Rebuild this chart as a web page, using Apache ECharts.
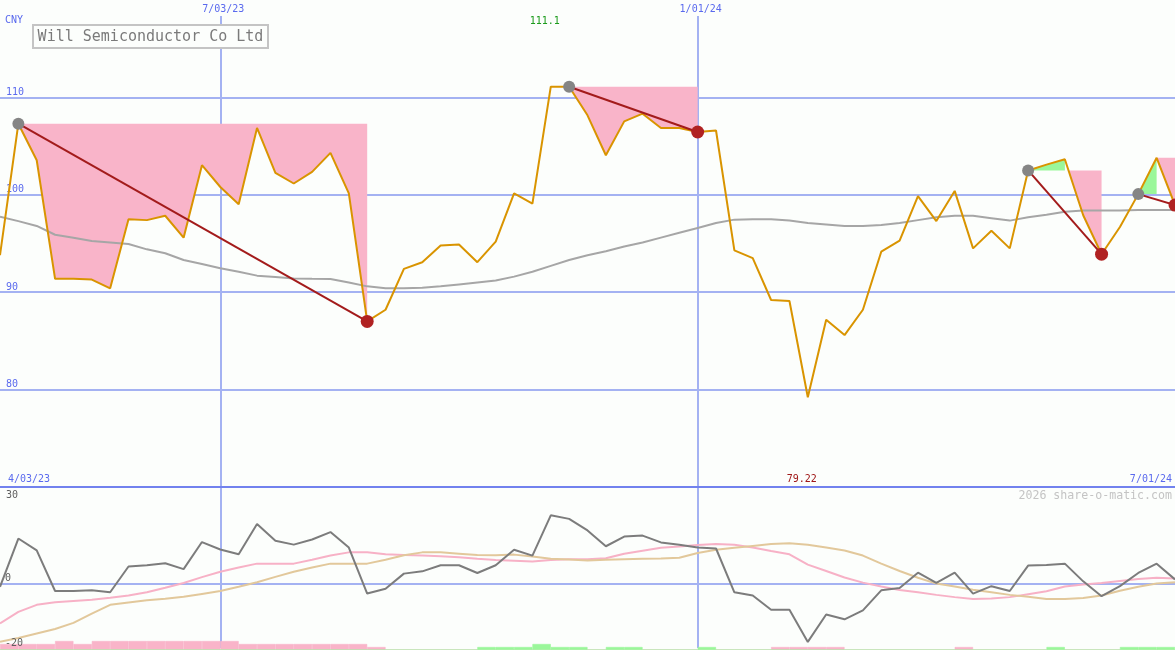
<!DOCTYPE html>
<html><head><meta charset="utf-8">
<script src="https://cdn.jsdelivr.net/npm/echarts@6/dist/echarts.min.js"></script>
<style>html,body{margin:0;padding:0;background:#fcfefc}#c{width:1175px;height:650px}</style>
</head><body><div id="c"></div>
<script>
// ---------- data ----------
const dates = ['4/10/23','4/17/23','4/24/23','5/01/23','5/08/23','5/15/23','5/22/23','5/29/23','6/05/23','6/12/23',
  '6/19/23','6/26/23','7/03/23','7/10/23','7/17/23','7/24/23','7/31/23','8/07/23','8/14/23','8/21/23',
  '8/28/23','9/04/23','9/11/23','9/18/23','9/25/23','10/02/23','10/09/23','10/16/23','10/23/23','10/30/23',
  '11/06/23','11/13/23','11/20/23','11/27/23','12/04/23','12/11/23','12/18/23','12/25/23','1/01/24','1/08/24',
  '1/15/24','1/22/24','1/29/24','2/05/24','2/12/24','2/19/24','2/26/24','3/04/24','3/11/24','3/18/24',
  '3/25/24','4/01/24','4/08/24','4/15/24','4/22/24','4/29/24','5/06/24','5/13/24','5/20/24','5/27/24',
  '6/03/24','6/10/24','6/17/24','6/24/24','7/01/24'];
const dateTicks = ['7/03/23', '1/01/24'];
const rangeLabels = ['4/03/23', '7/01/24'];
const priceTicks = [110, 100, 90, 80];
const oscLowTicks = [0, -20];
const oscHighTicks = [30];
const title = 'Will Semiconductor Co Ltd';
const currency = 'CNY';
const credit = '2026 share-o-matic.com';

const price = [93.8,107.3,103.55,91.37,91.37,91.3,90.4,97.5,97.4,97.85,
  95.6,103.04,100.8,99.04,106.86,102.25,101.16,102.35,104.3,100.14,
  87.0,88.2,92.4,93.08,94.8,94.9,93.08,95.2,100.14,99.1,
  111.1,111.1,108.16,104.06,107.54,108.33,106.86,106.86,106.45,106.6,
  94.3,93.5,89.2,89.1,79.22,87.17,85.6,88.2,94.16,95.3,
  99.86,97.3,100.4,94.5,96.3,94.5,102.5,103.1,103.65,97.9,
  93.9,96.7,100.07,103.8,98.94];
const movingAvg = [97.75,97.3,96.8,95.9,95.6,95.25,95.1,94.95,94.4,94.0,
  93.3,92.9,92.45,92.1,91.7,91.55,91.4,91.37,91.35,91.0,
  90.6,90.4,90.4,90.45,90.6,90.8,91.0,91.2,91.6,92.1,
  92.7,93.3,93.8,94.2,94.7,95.1,95.6,96.1,96.6,97.1,
  97.45,97.5,97.5,97.35,97.1,96.95,96.8,96.8,96.9,97.1,
  97.4,97.7,97.85,97.85,97.6,97.35,97.7,97.95,98.25,98.4,
  98.4,98.4,98.43,98.43,98.43];
const oscFast = [-1.0,14.0,10.3,-2.3,-2.3,-2.1,-2.7,5.3,5.7,6.3,
  4.5,12.9,10.6,9.1,18.5,13.3,12.1,13.7,16.0,11.2,
  -3.1,-1.6,3.1,3.8,5.7,5.7,3.3,5.7,10.5,8.7,
  21.2,20.1,16.5,11.6,14.6,14.9,12.8,12.1,11.2,10.9,
  -2.7,-3.7,-8.1,-8.1,-18.1,-9.6,-11.1,-8.3,-2.1,-1.4,
  3.4,0.2,3.4,-3.1,-0.8,-2.3,5.6,5.8,6.2,0.7,
  -3.9,-0.8,3.3,6.2,1.3];
const oscSignal = [-12.4,-8.8,-6.6,-5.8,-5.4,-5.0,-4.4,-3.7,-2.7,-1.3,
  0.2,2.0,3.7,5.0,6.2,6.2,6.2,7.4,8.7,9.7,
  9.7,9.1,8.9,8.7,8.5,8.2,7.7,7.3,7.1,6.9,
  7.3,7.6,7.6,7.9,9.3,10.2,11.1,11.5,12.0,12.3,
  12.1,11.2,10.1,9.1,5.9,3.9,1.9,0.3,-0.9,-2.0,
  -2.7,-3.5,-4.2,-4.8,-4.6,-4.2,-3.3,-2.4,-0.9,-0.3,
  0.2,0.8,1.4,1.8,1.6];
const oscSlow = [-18.1,-16.9,-15.5,-14.1,-12.2,-9.3,-6.6,-5.9,-5.2,-4.7,
  -4.1,-3.2,-2.3,-1.0,0.4,2.1,3.7,5.0,6.2,6.2,
  6.2,7.4,8.8,9.7,9.7,9.3,8.9,8.8,9.0,8.4,
  7.7,7.5,7.2,7.4,7.6,7.7,7.8,8.0,9.5,10.5,
  11.1,11.7,12.3,12.5,12.1,11.2,10.3,8.7,6.2,3.9,
  1.8,0.0,-0.9,-1.9,-2.7,-3.5,-4.1,-4.8,-4.8,-4.5,
  -3.7,-2.2,-1.0,0.0,0.4];
// weekly strength strip (one value per week interval)
const barPink = [2,2,2,3,2,3,3,3,3,3, 3,3,3,2,2,2,2,2,2,2, 1,0,0,0,0,0,0,0,0,0,
  0,0,0,0,0,0,0,0,0,0, 0,0,1,1,1,1,0,0,0,0, 0,0,1,0,0,0,0,0,0,0, 0,0,0,0];
const barGreen = [0,0,0,0,0,0,0,0,0,0, 0,0,0,0,0,0,0,0,0,0, 0,0,0,0,0,0,1,1,1,2,
  1,1,0,1,1,0,0,0,1,0, 0,0,0,0,0,0,0,0,0,0, 0,0,0,0,0,0,0,1,0,0, 0,1,1,1];
// drawdowns: [peak index, trough index]
const drawdowns = [[1,20],[31,38],[56,60],[62,64]];
// shaded zones: from/to index, reference index, side
const fillZones = [
  {from:1, to:20, ref:1, side:'below'},
  {from:31, to:38, ref:31, side:'below'},
  {from:56, to:58, ref:56, side:'above'},
  {from:58, to:60, ref:56, side:'below'},
  {from:62, to:63, ref:62, side:'above'},
  {from:63, to:64, ref:63, side:'below'}
];

// ---------- style ----------
const BG = '#fcfefc', GRID = '#a4b2f2', SEP = '#7282ee', BLUE = '#5a6aee';
const MONO = 'DejaVu Sans Mono';
const PINK = '#f9b4c9', GREEN = '#9af79a';

const chart = echarts.init(document.getElementById('c'), null, {renderer: 'canvas'});
const tickFn = (i, v) => dateTicks.indexOf(v) >= 0;

const option = {
  backgroundColor: BG,
  animation: false,
  grid: [
    {left: 0, right: 0, top: 0, height: 487},
    {left: 0, right: 0, top: 487, height: 161},
    {left: 0, right: 0, top: 641, height: 9}
  ],
  xAxis: [
    {gridIndex: 0, type: 'category', data: dates, boundaryGap: false, position: 'top',
     axisLine: {show: false, onZero: false}, axisTick: {show: false},
     axisLabel: {inside: true, interval: tickFn, color: BLUE, fontFamily: MONO, fontSize: 10,
       verticalAlign: 'top', margin: 0, lineHeight: 12, padding: [3, 1, 1, 7], backgroundColor: BG},
     splitLine: {show: true, interval: tickFn, lineStyle: {color: GRID, width: 2}}},
    {gridIndex: 1, type: 'category', data: dates, boundaryGap: false, position: 'top',
     axisLine: {show: true, onZero: false, lineStyle: {color: SEP, width: 2}}, axisTick: {show: false},
     axisLabel: {show: false},
     splitLine: {show: true, interval: tickFn, lineStyle: {color: GRID, width: 2}}},
    {gridIndex: 1, type: 'category', data: dates, boundaryGap: false, position: 'bottom',
     axisLine: {show: true, onZero: true, lineStyle: {color: GRID, width: 2}}, axisTick: {show: false},
     axisLabel: {show: false}, splitLine: {show: false}},
    {gridIndex: 2, type: 'category', data: dates.slice(0, 64), boundaryGap: true, show: false}
  ],
  yAxis: [
    {gridIndex: 0, type: 'value', min: 70, max: 120, interval: 10, position: 'left',
     axisLine: {show: false}, axisTick: {show: false},
     splitLine: {show: true, showMinLine: false, showMaxLine: false, lineStyle: {color: GRID, width: 2}},
     axisLabel: {inside: true, margin: 6, color: BLUE, fontFamily: MONO, fontSize: 10, verticalAlign: 'bottom',
       showMinLabel: false, showMaxLabel: false,
       formatter: v => priceTicks.indexOf(v) >= 0 ? String(v) : ''}},
    {gridIndex: 1, type: 'value', min: -20, max: 30, interval: 10, position: 'left', offset: 0, z: 10,
     axisLine: {show: false}, axisTick: {show: false}, splitLine: {show: false},
     axisLabel: {inside: true, margin: 5, color: '#606060', fontFamily: MONO, fontSize: 10, verticalAlign: 'bottom',
       formatter: v => oscLowTicks.indexOf(v) >= 0 ? String(v) : ''}},
    {gridIndex: 1, type: 'value', min: -20, max: 30, interval: 10, position: 'left', offset: 0, z: 10,
     axisLine: {show: false}, axisTick: {show: false}, splitLine: {show: false},
     axisLabel: {inside: true, margin: 6, color: '#606060', fontFamily: MONO, fontSize: 10, verticalAlign: 'top',
       padding: [3, 0, 0, 0],
       formatter: v => oscHighTicks.indexOf(v) >= 0 ? String(v) : ''}},
    {gridIndex: 2, type: 'value', min: 0, max: 3, show: false}
  ],
  series: [
    {type: 'custom', xAxisIndex: 0, yAxisIndex: 0, silent: true, z: 1,
     data: fillZones.map(f => [f.from, price[f.ref]]),
     renderItem: function (params, api) {
       const f = fillZones[params.dataIndex];
       const level = price[f.ref];
       const below = f.side === 'below';
       const pts = [api.coord([f.from, level])];
       for (let i = f.from; i <= f.to; i++) {
         const v = price[i];
         if (i > f.from) {
           const p = price[i - 1];
           if ((p - level) * (v - level) < 0) {
             const a = api.coord([i - 1, p]), b = api.coord([i, v]);
             const t = (level - p) / (v - p);
             pts.push([a[0] + (b[0] - a[0]) * t, a[1] + (b[1] - a[1]) * t]);
           }
         }
         const c = below ? Math.min(v, level) : Math.max(v, level);
         pts.push(api.coord([i, c]));
       }
       pts.push(api.coord([f.to, level]));
       return {type: 'polygon', shape: {points: pts}, style: {fill: below ? PINK : GREEN}};
     }},
    {type: 'line', xAxisIndex: 0, yAxisIndex: 0, data: movingAvg, symbol: 'none', silent: true, z: 2,
     lineStyle: {color: '#a6a6a6', width: 2}},
    {type: 'line', xAxisIndex: 0, yAxisIndex: 0, data: price, symbol: 'none', silent: true, z: 3,
     lineStyle: {color: '#d99400', width: 2}},
    {type: 'lines', coordinateSystem: 'cartesian2d', xAxisIndex: 0, yAxisIndex: 0, silent: true, z: 4,
     data: drawdowns.map(d => ({coords: [[d[0], price[d[0]]], [d[1], price[d[1]]]]})),
     lineStyle: {color: '#a31b1b', width: 2, opacity: 1}},
    {type: 'scatter', xAxisIndex: 0, yAxisIndex: 0, silent: true, z: 5, symbolSize: 12,
     data: drawdowns.map(d => [d[0], price[d[0]]]), itemStyle: {color: '#858585', opacity: 1}},
    {type: 'scatter', xAxisIndex: 0, yAxisIndex: 0, silent: true, z: 5, symbolSize: 13,
     data: drawdowns.map(d => [d[1], price[d[1]]]), itemStyle: {color: '#b02222', opacity: 1}},
    {type: 'line', xAxisIndex: 1, yAxisIndex: 1, data: oscSignal, symbol: 'none', silent: true, z: 2,
     lineStyle: {color: '#f7b1c6', width: 2}},
    {type: 'line', xAxisIndex: 1, yAxisIndex: 1, data: oscSlow, symbol: 'none', silent: true, z: 2,
     lineStyle: {color: '#e2c89b', width: 2}},
    {type: 'line', xAxisIndex: 1, yAxisIndex: 1, data: oscFast, symbol: 'none', silent: true, z: 3,
     lineStyle: {color: '#7c7c7c', width: 2}},
    {type: 'bar', xAxisIndex: 3, yAxisIndex: 3, data: barPink, barWidth: '100%', barGap: '-100%', silent: true, z: 4,
     itemStyle: {color: PINK, borderColor: PINK, borderWidth: 0.6}},
    {type: 'bar', xAxisIndex: 3, yAxisIndex: 3, data: barGreen, barWidth: '100%', barGap: '-100%', silent: true, z: 4,
     itemStyle: {color: GREEN, borderColor: GREEN, borderWidth: 0.6}}
  ]
};
chart.setOption(option);

// labels for the extreme values, placed through the chart's own x scale
let maxIdx = 0, minIdx = 0;
price.forEach((v, i) => { if (v > price[maxIdx]) maxIdx = i; if (v < price[minIdx]) minIdx = i; });
const xMax = chart.convertToPixel({xAxisIndex: 0}, maxIdx);
const xMin = chart.convertToPixel({xAxisIndex: 0}, minIdx);
const txt = (text, x, y, size, color, align) => ({
  type: 'text', x: x, y: y, silent: true, z: 100,
  style: {text: text, fontFamily: MONO, fontSize: size, fill: color, align: align, verticalAlign: 'middle'}
});

chart.setOption({
  graphic: [
    {type: 'rect', shape: {x: 33, y: 25, width: 235, height: 23}, silent: true, z: 100,
     style: {fill: BG, stroke: '#c4c4c4', lineWidth: 2}},
    txt(title, 150.5, 37, 15, '#7a7a7a', 'center'),
    txt(currency, 5, 20, 10, BLUE, 'left'),
    txt(price[maxIdx].toPrecision(4), xMax - 6, 21, 10, '#1a9a1a', 'center'),
    txt(price[minIdx].toPrecision(4), xMin - 6, 479, 10, '#a01818', 'center'),
    txt(rangeLabels[0], 8, 479, 10, BLUE, 'left'),
    txt(rangeLabels[1], 1172, 479, 10, BLUE, 'right'),
    txt(credit, 1172, 496, 11.6, '#c4c4c4', 'right')
  ]
});
</script></body></html>
